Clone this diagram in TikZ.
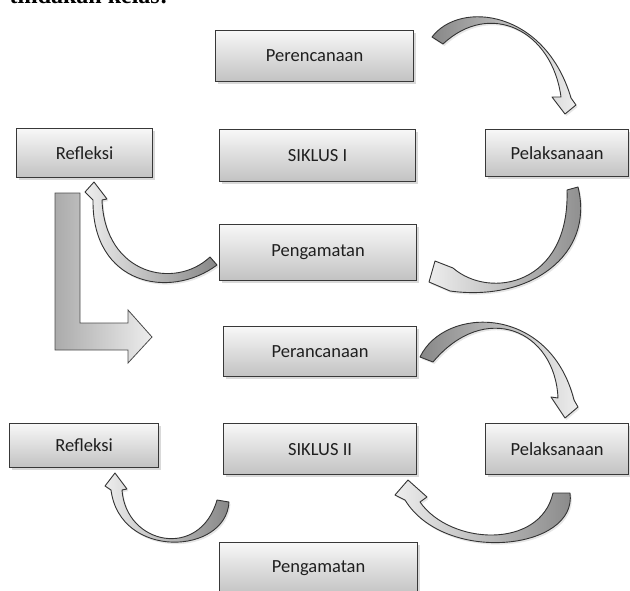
\documentclass[tikz,border=0pt]{standalone}
\usepackage{fontspec}
\setmainfont{Carlito}
\newfontfamily\headserif{Liberation Serif}
\usetikzlibrary{shadows}
\begin{document}
\begin{tikzpicture}[x=1pt,y=-1pt,
  box/.style={draw=black!78, line width=1.2pt, top color=black!3, bottom color=black!24,
    inner sep=0pt, anchor=north west, text=black!88,
    font=\fontsize{18.5}{22}\selectfont,
    drop shadow={shadow xshift=2.5pt, shadow yshift=-2.5pt, opacity=0.3}},
  barrow/.style={draw=black!80, line width=0.9pt, line join=round,
    top color=black!47, bottom color=black!7,
    drop shadow={shadow xshift=1.5pt, shadow yshift=-2pt, opacity=0.2}},
  larrow/.style={draw=black!70, line width=0.8pt, line join=miter,
    top color=black!33, bottom color=black!7, shading angle=90}]
\useasboundingbox (0,0) rectangle (630,590);

% partly cut heading text
\node[anchor=base east, inner sep=0pt, font=\headserif\bfseries\fontsize{24}{28}\selectfont] (hdr) at (168,3) {tindakan kelas:};

% cycle I
\node[box, minimum width=198pt, minimum height=51pt] (per1) at (215,30) {Perencanaan};
\node[box, minimum width=143pt, minimum height=47pt] (pel1) at (485,129) {Pelaksanaan};
\node[box, minimum width=136pt, minimum height=49pt] (ref1) at (16,128) {Refleksi};
\node[box, minimum width=196pt, minimum height=52pt] (sik1) at (219,129) {SIKLUS I};
\node[box, minimum width=197pt, minimum height=56pt] (pen1) at (219,224) {Pengamatan};

% cycle II
\node[box, minimum width=193pt, minimum height=50pt] (per2) at (223,326) {Perancanaan};
\node[box, minimum width=143pt, minimum height=51pt] (pel2) at (485,423) {Pelaksanaan};
\node[box, minimum width=193pt, minimum height=51pt] (sik2) at (223,423) {SIKLUS II};
\node[box, minimum width=149pt, minimum height=44pt] (ref2) at (9,423) {Refleksi};
\node[box, minimum width=198pt, minimum height=52pt] (pen2) at (219,542) {Pengamatan};

% curved block arrows, cycle I
\path[barrow, shading angle=90] (432,37) .. controls (460,0) and (545,10) .. (571,98)
  -- (576,105) -- (565,114) -- (552,97) -- (561,97)
  .. controls (552,30) and (490,0) .. (443,44) -- cycle;
\path[barrow, shading angle=-90] (567,190) -- (578,187)
  .. controls (595,255) and (530,302) .. (450,291)
  -- (429,282) -- (435,261) -- (453,268)
  .. controls (490,300) and (570,285) .. (567,190) -- cycle;
\path[barrow, shading angle=-90] (217,265) -- (210,257)
  .. controls (175,290) and (105,275) .. (102,200)
  -- (107,199) -- (94,182) -- (85,192) -- (93,200)
  .. controls (92,285) and (170,300) .. (217,265) -- cycle;

% L-shaped arrow between the cycles
\path[larrow] (55,193) -- (80,193) -- (80,323) -- (128,323) -- (128,310)
  -- (152,337) -- (128,363) -- (128,350) -- (55,350) -- cycle;

% curved block arrows, cycle II
\path[barrow, shading angle=90] (420,357) .. controls (445,305) and (550,305) .. (574,400)
  -- (578,407) -- (565,418) -- (551,397) -- (558,398)
  .. controls (555,330) and (485,300) .. (433,362) -- cycle;
\path[barrow, shading angle=-90] (553,493) -- (570,493)
  .. controls (578,550) and (445,565) .. (405,500)
  -- (395,495) -- (408,480) -- (427,497) -- (420,502)
  .. controls (450,545) and (540,550) .. (553,493) -- cycle;
\path[barrow, shading angle=-90] (217,500) -- (229,502)
  .. controls (226,555) and (120,560) .. (111,490)
  -- (105,486) -- (115,473) -- (127,489) -- (122,490)
  .. controls (126,545) and (200,560) .. (217,500) -- cycle;
\end{tikzpicture}
\end{document}
